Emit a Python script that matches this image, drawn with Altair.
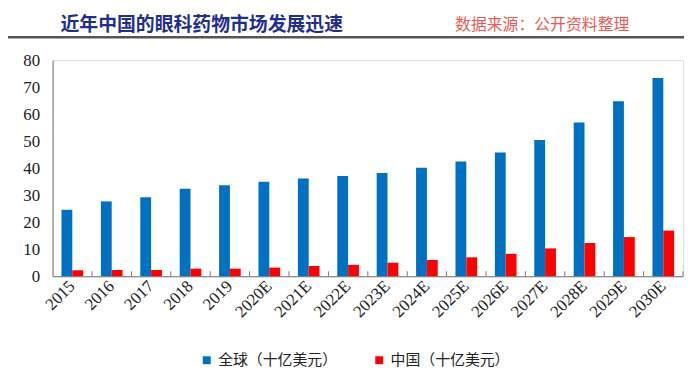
import altair as alt
import pandas as pd

YEARS = ["2015", "2016", "2017", "2018", "2019", "2020E", "2021E", "2022E",
         "2023E", "2024E", "2025E", "2026E", "2027E", "2028E", "2029E", "2030E"]
GLOBAL = [24.6, 27.7, 29.2, 32.4, 33.7, 35.0, 36.2, 37.1,
          38.2, 40.2, 42.5, 45.8, 50.4, 56.9, 64.8, 73.4]
CHINA = [2.2, 2.3, 2.3, 2.8, 2.8, 3.2, 3.8, 4.2,
         5.0, 6.0, 7.0, 8.3, 10.3, 12.3, 14.5, 16.9]
SERIES = ["全球（十亿美元）", "中国（十亿美元）"]
COLORS = ["#0070C0", "#FF0000"]
TITLE = "近年中国的眼科药物市场发展迅速"
SOURCE = "数据来源：公开资料整理"

rows = []
for i, y in enumerate(YEARS):
    rows.append({"year": y, "series": SERIES[0], "value": GLOBAL[i]})
    rows.append({"year": y, "series": SERIES[1], "value": CHINA[i]})
df = pd.DataFrame(rows)

W, H = 636, 218

xscale = alt.Scale(domain=YEARS, paddingInner=0, paddingOuter=0)

bars = alt.Chart(df).mark_bar().encode(
    x=alt.X("year:N", sort=YEARS, scale=xscale, title=None,
            axis=alt.Axis(labelAngle=-45, labelFont="Liberation Serif", labelFontSize=17,
                          labelColor="#222", ticks=False, domainColor="#777",
                          labelPadding=7, labelAlign="right", labelBaseline="middle")),
    xOffset=alt.XOffset("series:N", sort=SERIES,
                        scale=alt.Scale(domain=SERIES, paddingInner=0, paddingOuter=0.82)),
    y=alt.Y("value:Q", scale=alt.Scale(domain=[0, 80], nice=False), title=None,
            axis=alt.Axis(values=[0, 10, 20, 30, 40, 50, 60, 70, 80], grid=False, ticks=False,
                          labelFont="Liberation Serif", labelFontSize=17, labelColor="#222",
                          labelPadding=13, domainColor="#777")),
    color=alt.Color("series:N", sort=SERIES,
                    scale=alt.Scale(domain=SERIES, range=COLORS),
                    legend=alt.Legend(title=None, orient="none", legendX=148, legendY=295,
                                      direction="horizontal", symbolType="square",
                                      symbolSize=64, symbolStrokeWidth=0, symbolOpacity=1,
                                      labelFont="Noto Sans CJK SC", labelFontSize=15,
                                      labelColor="#222", labelOffset=4, columnPadding=34)),
)

ticks = alt.Chart(pd.DataFrame({"year": YEARS})).mark_rule(color="#777", strokeWidth=1).encode(
    x=alt.X("year:N", sort=YEARS, bandPosition=1),
    y=alt.value(H),
    y2=alt.value(H - 5),
)

title = alt.Chart(pd.DataFrame({"t": [TITLE]})).mark_text(
    font="Noto Sans CJK SC", fontSize=19, fontWeight="bold", color="#1F2F8F",
    align="left", baseline="middle").encode(
    x=alt.value(8), y=alt.value(-35), text="t:N")

source = alt.Chart(pd.DataFrame({"t": [SOURCE]})).mark_text(
    font="Noto Sans CJK SC", fontSize=16, color="#EE5A52",
    align="left", baseline="middle").encode(
    x=alt.value(406), y=alt.value(-35), text="t:N")

line = alt.Chart(pd.DataFrame({"a": [0]})).mark_rule(color="#555", strokeWidth=2.5).encode(
    x=alt.value(-53), x2=alt.value(W + 6), y=alt.value(-23))

chart = alt.layer(line, title, source, bars, ticks).properties(
    width=W, height=H,
    autosize=alt.AutoSizeParams(type="none"),
    padding={"left": 45, "top": 51, "right": 1, "bottom": 95},
).configure_view(stroke=None).configure(background="white")

chart.save("out.html", embed_options={"renderer": "svg", "actions": False})
